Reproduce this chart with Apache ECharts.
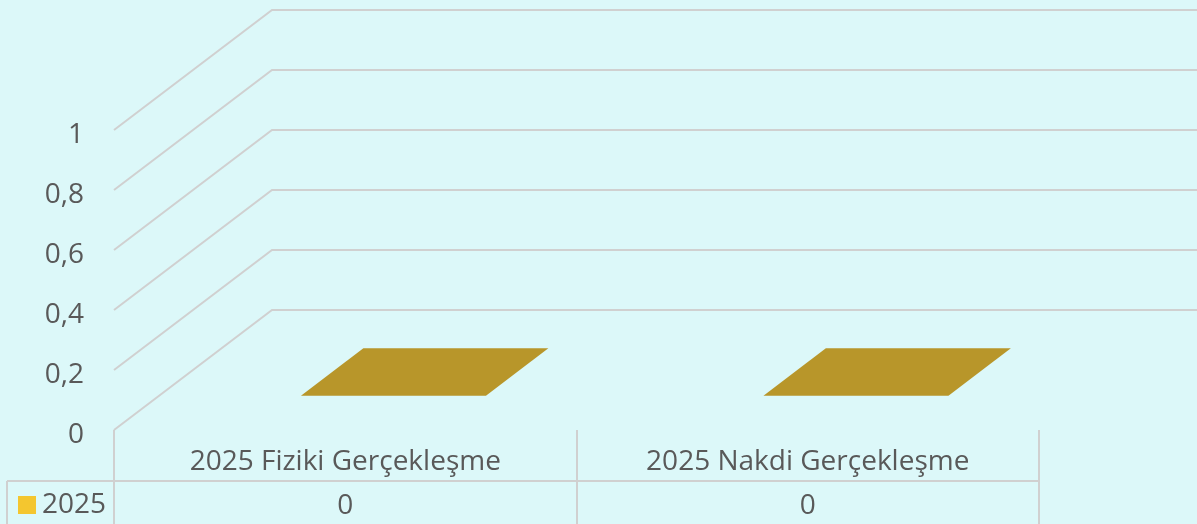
<!DOCTYPE html>
<html>
<head>
<meta charset="utf-8">
<script src="https://cdn.jsdelivr.net/npm/echarts@6/dist/echarts.min.js"></script>
<style>
  html, body { margin: 0; padding: 0; background: #DCF8F9; }
  #chart { width: 1197px; height: 524px; }
</style>
</head>
<body>
<div id="chart"></div>
<script>
// ---- data ----
const categories = ['2025 Fiziki Gerçekleşme', '2025 Nakdi Gerçekleşme'];
const seriesName = '2025';
const values = [0, 0];
const yTicks = [0, 0.2, 0.4, 0.6, 0.8, 1];

// ---- style constants ----
const DX = 158, DY = -120;          // 3D depth offset of back wall
const F1 = 0.286, F2 = 0.681;       // bar depth (front/back) as fraction of depth
const BAR_SHIFT = 3;                // small horizontal shift of bars
const GRID_COLOR = '#D0D0D0';
const TEXT_COLOR = '#595959';
const FONT = 'Open Sans';
const FS = 28;

const chart = echarts.init(document.getElementById('chart'), null, { renderer: 'canvas' });

const option = {
  backgroundColor: '#DCF8F9',
  animation: false,
  textStyle: { fontFamily: FONT },
  legend: {
    show: true,
    left: 18, top: 491,
    padding: 0,
    itemWidth: 18, itemHeight: 18,
    data: [{ name: seriesName, icon: 'rect', itemStyle: { color: '#F4C62F' } }],
    textStyle: { fontFamily: FONT, fontSize: FS, color: TEXT_COLOR, padding: [0, 0, 0, 1] },
    selectedMode: false
  },
  grid: { left: 114, right: 158, top: 130, bottom: 94, containLabel: false },
  xAxis: [
    {
      type: 'category',
      data: categories,
      axisLine: { show: false },
      axisTick: { show: true, length: 94, lineStyle: { color: GRID_COLOR, width: 2 } },
      splitLine: { show: false },
      axisLabel: { margin: 32, verticalAlign: 'middle', fontFamily: FONT, fontSize: FS, color: TEXT_COLOR }
    },
    {
      type: 'category',
      position: 'bottom',
      data: values.map(v => String(v).replace('.', ',')),
      axisLine: { show: false },
      axisTick: { show: false },
      splitLine: { show: false },
      axisLabel: { margin: 76, verticalAlign: 'middle', fontFamily: FONT, fontSize: FS, color: TEXT_COLOR }
    }
  ],
  yAxis: {
    type: 'value',
    min: 0, max: 1, interval: 0.2,
    axisLine: { show: false },
    axisTick: { show: false },
    splitLine: { show: false },
    axisLabel: {
      margin: 30,
      fontFamily: FONT, fontSize: FS, color: TEXT_COLOR,
      formatter: v => '{v|' + String(+v.toFixed(1)).replace('.', ',') + '}',
      rich: {
        v: { fontFamily: FONT, fontSize: FS, color: TEXT_COLOR, padding: [10, 0, 0, 0] }
      }
    }
  },
  graphic: [
    { type: 'line', shape: { x1: 7, y1: 481, x2: 1039, y2: 481 }, style: { stroke: GRID_COLOR, lineWidth: 2 }, z: 1 },
    { type: 'line', shape: { x1: 7, y1: 481, x2: 7, y2: 524 }, style: { stroke: GRID_COLOR, lineWidth: 2 }, z: 1 }
  ],
  series: [
    {
      type: 'custom',
      name: 'grid3d',
      silent: true,
      clip: false,
      z: 1,
      data: yTicks.map(v => [0, v]),
      renderItem: function (params, api) {
        const cs = params.coordSys;
        const y = api.coord([0, api.value(1)])[1];
        return {
          type: 'polyline',
          shape: { points: [[cs.x, y], [cs.x + DX, y + DY], [cs.x + cs.width + DX + 2, y + DY]] },
          style: { stroke: GRID_COLOR, lineWidth: 2, fill: null }
        };
      }
    },
    {
      type: 'custom',
      name: seriesName,
      clip: false,
      z: 3,
      itemStyle: { color: '#F4C62F' },
      data: categories.map((c, i) => [i, values[i]]),
      renderItem: function (params, api) {
        const idx = api.value(0);
        const base = api.coord([idx, 0]);
        const top = api.coord([idx, api.value(1)]);
        const bw = api.size([1, 0])[0] * 0.4;
        const x0 = base[0] - bw / 2 + BAR_SHIFT, x1 = base[0] + bw / 2 + BAR_SHIFT;
        const yb = base[1], yt = top[1];
        const children = [];
        if (yb - yt > 0.5) {
          children.push({
            type: 'polygon',
            shape: { points: [[x0 + F1 * DX, yb + F1 * DY], [x1 + F1 * DX, yb + F1 * DY], [x1 + F1 * DX, yt + F1 * DY], [x0 + F1 * DX, yt + F1 * DY]] },
            style: { fill: '#F4C62F' }
          });
          children.push({
            type: 'polygon',
            shape: { points: [[x1 + F1 * DX, yb + F1 * DY], [x1 + F2 * DX, yb + F2 * DY], [x1 + F2 * DX, yt + F2 * DY], [x1 + F1 * DX, yt + F1 * DY]] },
            style: { fill: '#A88822' }
          });
        }
        children.push({
          type: 'polygon',
          shape: { points: [[x0 + F1 * DX, yt + F1 * DY], [x1 + F1 * DX, yt + F1 * DY], [x1 + F2 * DX, yt + F2 * DY], [x0 + F2 * DX, yt + F2 * DY]] },
          style: { fill: '#B8962A' }
        });
        return { type: 'group', children: children };
      }
    }
  ]
};

chart.setOption(option);
</script>
</body>
</html>
